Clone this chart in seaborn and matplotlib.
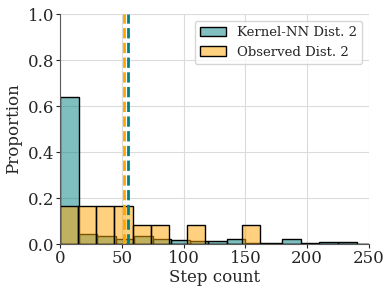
import numpy as np
import pandas as pd
import matplotlib
matplotlib.use("Agg")
import matplotlib.pyplot as plt
import seaborn as sns

# bin proportions
kernel_edges = list(range(0, 256, 15))
kernel_props = [0.64, 0.043, 0.033, 0.023, 0.035, 0.02, 0.018, 0.012, 0.013,
                0.022, 0.006, 0.004, 0.022, 0.004, 0.011, 0.007, 0.002]
obs_edges = list(np.linspace(0, 250, 18))
obs_props = [0.167, 0.167, 0.167, 0.167, 0.083, 0.083, 0.0, 0.083, 0.0,
             0.0, 0.083, 0.0, 0.0, 0.0, 0.0, 0.0, 0.0]
kernel_mean = 55
obs_mean = 52

teal = "#008080"
orange = "#FFA500"

sns.set_style("whitegrid", {"axes.edgecolor": ".35", "xtick.bottom": True,
                            "ytick.left": True, "grid.color": ".86"})
plt.rcParams["font.family"] = ["DejaVu Serif"]

kernel_df = pd.DataFrame({"x": [(a + b) / 2 for a, b in zip(kernel_edges[:-1], kernel_edges[1:])],
                          "w": kernel_props})
obs_df = pd.DataFrame({"x": [(a + b) / 2 for a, b in zip(obs_edges[:-1], obs_edges[1:])],
                       "w": obs_props})

fig, ax = plt.subplots(figsize=(3.92, 2.93), dpi=100)
fig.subplots_adjust(left=0.153, right=0.941, top=0.952, bottom=0.167)

sns.histplot(data=kernel_df, x="x", weights="w", bins=kernel_edges, color=teal,
             alpha=0.5, edgecolor="black", linewidth=1, ax=ax, label="Kernel-NN Dist. 2")
sns.histplot(data=obs_df, x="x", weights="w", bins=obs_edges, color=orange,
             alpha=0.5, edgecolor="black", linewidth=1, ax=ax, label="Observed Dist. 2")
ax.axvline(obs_mean, color=orange, linestyle="--", linewidth=2)
ax.axvline(kernel_mean, color=teal, linestyle="--", linewidth=2)

ax.set_xlim(0, 250)
ax.set_ylim(0, 1.0)
ax.set_xlabel("Step count", fontsize=12, labelpad=2)
ax.set_ylabel("Proportion", fontsize=12)
ax.tick_params(labelsize=12, length=3, pad=1)
ax.legend(loc="upper right", fontsize=9.5)
sns.despine(ax=ax)

fig.savefig("out.png", dpi=100)
